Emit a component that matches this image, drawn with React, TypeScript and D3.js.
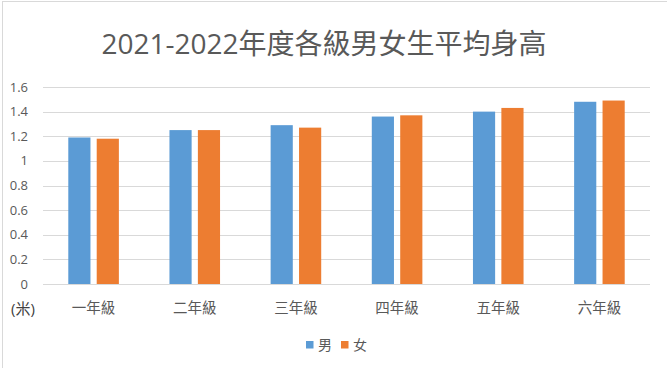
import React, {useEffect, useRef} from "react";
import * as d3 from "d3";

const grades = ["一年級", "二年級", "三年級", "四年級", "五年級", "六年級"];
const boys = [1.19, 1.25, 1.29, 1.36, 1.4, 1.48];
const girls = [1.18, 1.25, 1.27, 1.37, 1.43, 1.49];
const seriesNames = ["男", "女"];
const yTicks = [0, 0.2, 0.4, 0.6, 0.8, 1, 1.2, 1.4, 1.6];

const W = 667;
const H = 368;
const colors = ["#5B9BD5", "#ED7D31"];
const font = "'Open Sans', 'Noto Sans CJK TC', sans-serif";

const App: React.FC = () => {
	const svgRef = useRef<SVGSVGElement>(null);

	useEffect(() => {
		const svg = d3.select(svgRef.current);
		svg.selectAll("*").remove();

		const margin = {top: 87, right: 17, bottom: 84, left: 43};
		const innerW = W - margin.left - margin.right;
		const innerH = H - margin.top - margin.bottom;

		svg.append("rect").attr("width", W).attr("height", H).attr("fill", "#fff");
		// faint frame of the chart area
		svg.append("line").attr("x1", 2).attr("x2", W).attr("y1", 1.5).attr("y2", 1.5).attr("stroke", "#d9d9d9");
		svg.append("line").attr("x1", 2.5).attr("x2", 2.5).attr("y1", 1).attr("y2", H).attr("stroke", "#d9d9d9");

		const g = svg.append("g").attr("transform", `translate(${margin.left}, ${margin.top})`);

		const x0 = d3.scaleBand().domain(grades).range([0, innerW]).paddingInner(0.5).paddingOuter(0.25);
		const x1 = d3.scaleBand().domain(seriesNames).range([0, x0.bandwidth()]).paddingInner(0.22);
		const y = d3.scaleLinear().domain([0, 1.6]).range([innerH, 0]);

		// gridlines
		g.selectAll(".grid")
			.data(yTicks)
			.enter()
			.append("line")
			.attr("x1", 0)
			.attr("x2", innerW)
			.attr("y1", (d) => Math.round(y(d)) + 0.5)
			.attr("y2", (d) => Math.round(y(d)) + 0.5)
			.attr("stroke", "#d9d9d9")
			.attr("stroke-width", 1);

		// y labels
		g.selectAll(".ylab")
			.data(yTicks)
			.enter()
			.append("text")
			.attr("x", -15)
			.attr("y", (d) => y(d))
			.attr("dy", "0.35em")
			.attr("text-anchor", "end")
			.style("font-family", font)
			.style("font-size", "13px")
			.style("fill", "#595959")
			.text((d) => d3.format("~g")(d));

		const table = grades.map((grade, i) => ({grade, values: [boys[i], girls[i]]}));

		const groups = g.selectAll(".grp")
			.data(table)
			.enter()
			.append("g")
			.attr("transform", (d) => `translate(${x0(d.grade)}, 0)`);

		groups.selectAll("rect")
			.data((d) => d.values.map((v, j) => ({name: seriesNames[j], v, j})))
			.enter()
			.append("rect")
			.attr("x", (d) => x1(d.name) || 0)
			.attr("width", x1.bandwidth())
			.attr("y", (d) => y(d.v))
			.attr("height", (d) => innerH - y(d.v))
			.attr("fill", (d) => colors[d.j]);

		// x labels
		g.selectAll(".xlab")
			.data(grades)
			.enter()
			.append("text")
			.attr("x", (d) => (x0(d) || 0) + x0.bandwidth() / 2)
			.attr("y", innerH + 24)
			.attr("dy", "0.35em")
			.attr("text-anchor", "middle")
			.style("font-family", font)
			.style("font-size", "14.5px")
			.style("fill", "#595959")
			.text((d) => d);

		// unit label
		svg.append("text")
			.attr("x", 11)
			.attr("y", margin.top + innerH + 25)
			.attr("dy", "0.35em")
			.style("font-family", font)
			.style("font-size", "15px")
			.style("fill", "#404040")
			.text("(米)");

		// title
		svg.append("text")
			.attr("x", 324)
			.attr("y", 54)
			.attr("text-anchor", "middle")
			.style("font-family", font)
			.style("font-size", "28px")
			.style("fill", "#595959")
			.text("2021-2022年度各級男女生平均身高");

		// legend
		const legend = svg.append("g").attr("transform", "translate(306, 341)");
		seriesNames.forEach((name, i) => {
			const lg = legend.append("g").attr("transform", `translate(${i * 35}, 0)`);
			lg.append("rect").attr("width", 7.5).attr("height", 7.5).attr("fill", colors[i]);
			lg.append("text")
				.attr("x", 12)
				.attr("y", 4)
				.attr("dy", "0.35em")
				.style("font-family", font)
				.style("font-size", "14px")
				.style("fill", "#595959")
				.text(name);
		});
	}, []);

	return (
		<svg
			ref={svgRef}
			width={W}
			height={H}
			style={{position: "absolute", left: 0, top: 0, display: "block"}}
		/>
	);
};

export default App;
